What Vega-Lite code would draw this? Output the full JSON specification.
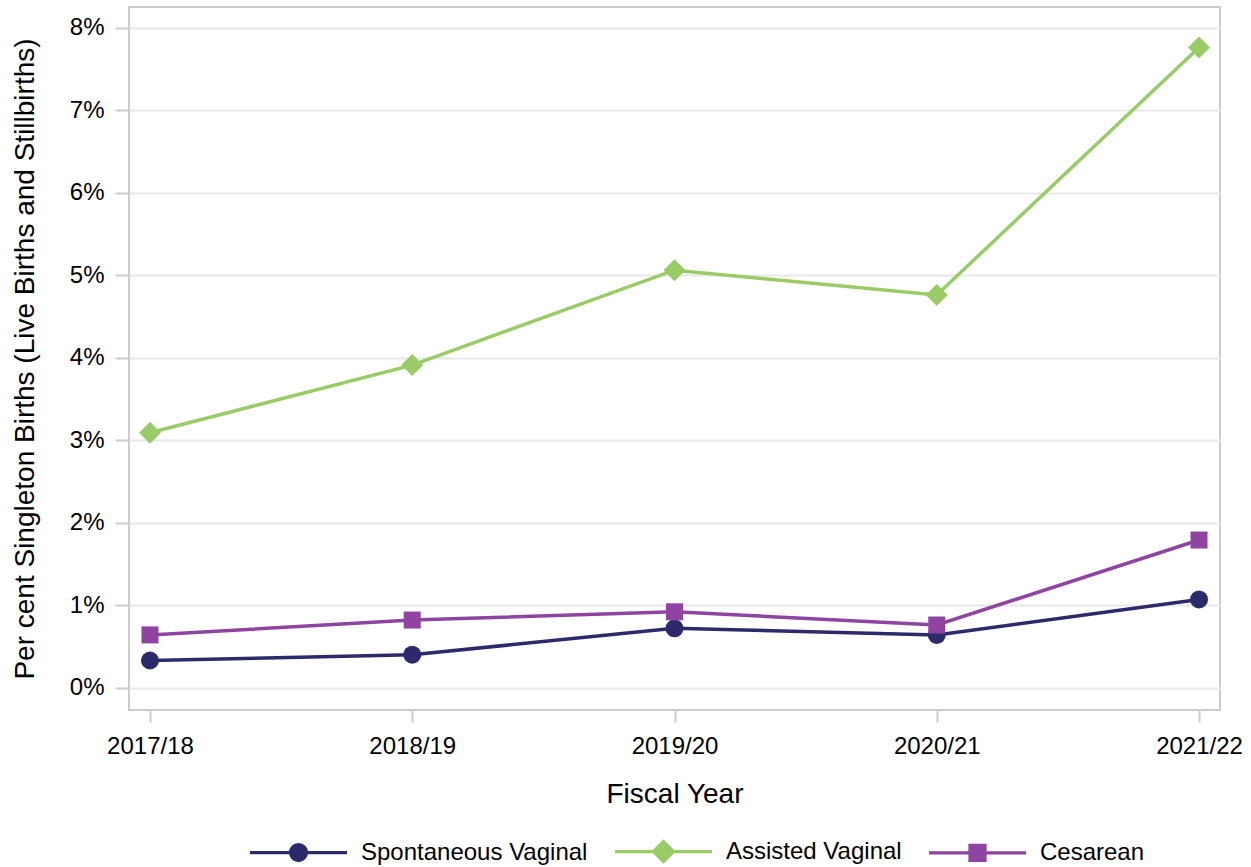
{
  "$schema": "https://vega.github.io/schema/vega-lite/v6.json",
  "width": 1091,
  "height": 703,
  "autosize": {"type": "none"},
  "padding": {"left": 129, "top": 7, "right": 31, "bottom": 157},
  "background": "white",
  "config": {
    "font": "Liberation Sans",
    "view": {"stroke": "#cccccc", "strokeWidth": 2},
    "axis": {
      "labelColor": "black",
      "titleColor": "black",
      "labelFontSize": 24,
      "titleFontSize": 28,
      "titleFontWeight": "normal",
      "tickColor": "#cccccc",
      "tickWidth": 2,
      "gridColor": "#e8e8e8",
      "gridWidth": 2,
      "domain": false
    },
    "legend": {"orient": "none", "legendX": 119, "legendY": 794, "direction": "horizontal", "title": null, "labelFontSize": 24, "labelColor": "black", "labelOffset": 12, "labelLimit": 0, "columnPadding": 20, "symbolSize": 9409, "symbolStrokeWidth": 3.2, "symbolOpacity": 1}
  },
  "data": {
    "values": [
      {"year": "2017/18", "series": "Spontaneous Vaginal", "pct": 0.33},
      {"year": "2018/19", "series": "Spontaneous Vaginal", "pct": 0.40},
      {"year": "2019/20", "series": "Spontaneous Vaginal", "pct": 0.72},
      {"year": "2020/21", "series": "Spontaneous Vaginal", "pct": 0.64},
      {"year": "2021/22", "series": "Spontaneous Vaginal", "pct": 1.07},
      {"year": "2017/18", "series": "Assisted Vaginal", "pct": 3.09},
      {"year": "2018/19", "series": "Assisted Vaginal", "pct": 3.91},
      {"year": "2019/20", "series": "Assisted Vaginal", "pct": 5.06},
      {"year": "2020/21", "series": "Assisted Vaginal", "pct": 4.76},
      {"year": "2021/22", "series": "Assisted Vaginal", "pct": 7.76},
      {"year": "2017/18", "series": "Cesarean", "pct": 0.64},
      {"year": "2018/19", "series": "Cesarean", "pct": 0.82},
      {"year": "2019/20", "series": "Cesarean", "pct": 0.92},
      {"year": "2020/21", "series": "Cesarean", "pct": 0.76},
      {"year": "2021/22", "series": "Cesarean", "pct": 1.79}
    ]
  },
  "encoding": {
    "x": {
      "field": "year",
      "type": "ordinal",
      "scale": {"type": "point", "padding": 0.08},
      "axis": {"title": "Fiscal Year", "labelAngle": 0, "tickSize": 12, "labelPadding": 12, "titlePadding": 22, "grid": false}
    },
    "y": {
      "field": "pct",
      "type": "quantitative",
      "scale": {"domain": [-0.27, 8.25], "nice": false, "zero": false},
      "axis": {
        "title": "Per cent Singleton Births (Live Births and Stillbirths)",
        "values": [0, 1, 2, 3, 4, 5, 6, 7, 8],
        "labelExpr": "datum.value + '%'",
        "tickSize": 14,
        "labelPadding": 11,
        "titlePadding": 30,
        "grid": true
      }
    }
  },
  "layer": [
    {
      "mark": {"type": "line", "strokeWidth": 3.5},
      "encoding": {
        "color": {
          "field": "series",
          "type": "nominal",
          "scale": {"range": ["#99cc66", "#8e44a0", "#2c2a6b"]},
          "legend": null
        }
      }
    },
    {
      "transform": [{"filter": "datum.series === 'Spontaneous Vaginal'"}],
      "mark": {"type": "point", "shape": "circle", "filled": true, "opacity": 1, "size": 324},
      "encoding": {"color": {"field": "series", "type": "nominal", "legend": null}}
    },
    {
      "transform": [{"filter": "datum.series === 'Assisted Vaginal'"}],
      "mark": {"type": "point", "shape": "diamond", "filled": true, "opacity": 1, "size": 484},
      "encoding": {"color": {"field": "series", "type": "nominal", "legend": null}}
    },
    {
      "transform": [{"filter": "datum.series === 'Cesarean'"}],
      "mark": {"type": "point", "shape": "square", "filled": true, "opacity": 1, "size": 289},
      "encoding": {"color": {"field": "series", "type": "nominal", "legend": null}}
    },
    {
      "transform": [{"filter": "false"}],
      "mark": {"type": "point", "filled": true, "opacity": 1, "size": 9409},
      "encoding": {
        "fill": {
          "field": "series",
          "type": "nominal",
          "scale": {"domain": ["Spontaneous Vaginal", "Assisted Vaginal", "Cesarean"], "range": ["#2c2a6b", "#99cc66", "#8e44a0"]}
        },
        "stroke": {
          "field": "series",
          "type": "nominal",
          "scale": {"domain": ["Spontaneous Vaginal", "Assisted Vaginal", "Cesarean"], "range": ["#2c2a6b", "#99cc66", "#8e44a0"]}
        },
        "shape": {
          "field": "series",
          "type": "nominal",
          "scale": {
            "domain": ["Spontaneous Vaginal", "Assisted Vaginal", "Cesarean"],
            "range": [
              "M-1,0H1M0.165,0A0.165,0.165 0 1,1 -0.165,0A0.165,0.165 0 1,1 0.165,0Z",
              "M-1,0H1M0,-0.206L0.206,0L0,0.206L-0.206,0Z",
              "M-1,0H1M-0.155,-0.155H0.155V0.155H-0.155Z"
            ]
          }
        }
      }
    }
  ]
}
